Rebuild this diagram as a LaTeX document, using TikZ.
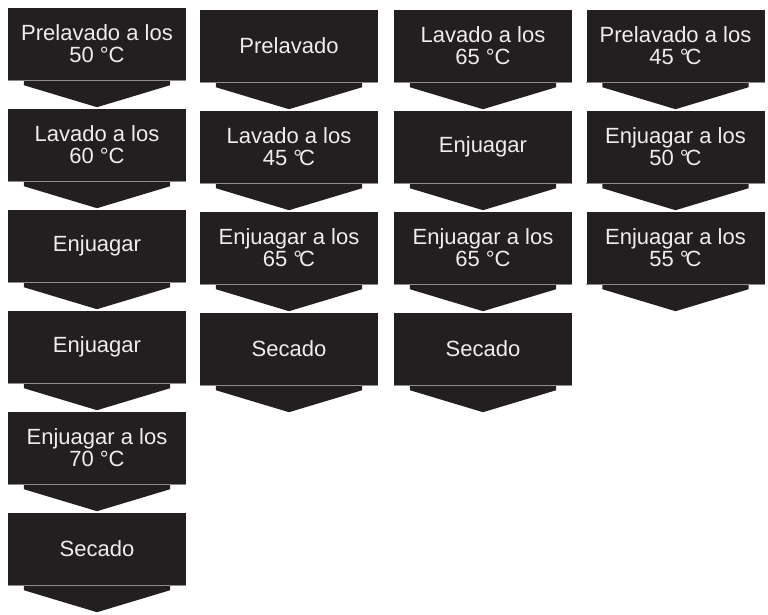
\documentclass[tikz,border=0pt]{standalone}
\usepackage{fontspec}
\setmainfont{Liberation Sans}
\definecolor{pasofill}{HTML}{231F20}
\newcommand{\gradC}{°\kern-.14em C}
\tikzset{
  paso/.style={fill=pasofill, text=white!93!black, minimum width=178pt, minimum height=72pt,
    inner sep=0pt, align=center, font=\fontsize{22}{22}\selectfont},
}
% arrow tip under a step box
\newcommand{\punta}[1]{%
  \fill[pasofill] ([xshift=16pt]#1.south west) -- ++(0,-5pt) -- ([yshift=-27pt]#1.south)
    -- ([xshift=-16pt,yshift=-5pt]#1.south east) -- ([xshift=-16pt]#1.south east) -- cycle;
  \draw[black!45, line width=.5pt] (#1.south west) -- (#1.south east);
}
\begin{document}
\begin{tikzpicture}[x=1pt,y=-1pt]
  \useasboundingbox (0,0) rectangle (768,615);

  % first program
  \node [paso] (a1) at (97,44)  {Prelavado a los\\50 °C};
  \node [paso] (a2) at (97,145) {Lavado a los\\60 °C};
  \node [paso] (a3) at (97,246) {Enjuagar};
  \node [paso] (a4) at (97,347) {Enjuagar};
  \node [paso] (a5) at (97,448) {Enjuagar a los\\70 °C};
  \node [paso] (a6) at (97,549) {Secado};

  % second program
  \node [paso] (b1) at (289,46)  {Prelavado};
  \node [paso] (b2) at (289,147) {Lavado a los\\45 \gradC};
  \node [paso] (b3) at (289,248) {Enjuagar a los\\65 \gradC};
  \node [paso] (b4) at (289,349) {Secado};

  % third program
  \node [paso] (c1) at (483,46)  {Lavado a los\\65 °C};
  \node [paso] (c2) at (483,147) {Enjuagar};
  \node [paso] (c3) at (483,248) {Enjuagar a los\\65 °C};
  \node [paso] (c4) at (483,349) {Secado};

  % fourth program
  \node [paso] (d1) at (675.5,46)  {Prelavado a los\\45 \gradC};
  \node [paso] (d2) at (675.5,147) {Enjuagar a los\\50 \gradC};
  \node [paso] (d3) at (675.5,248) {Enjuagar a los\\55 \gradC};

  \foreach \n in {a1,a2,a3,a4,a5,a6,b1,b2,b3,b4,c1,c2,c3,c4,d1,d2,d3}
    {\punta{\n}}

\end{tikzpicture}
\end{document}
